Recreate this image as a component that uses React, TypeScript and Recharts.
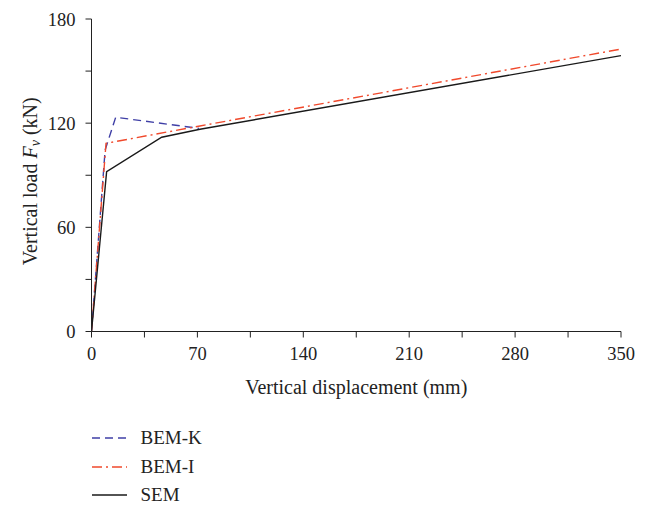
import React from "react";
import { LineChart, Line, XAxis, YAxis, Label } from "recharts";

const bemKDisp = [0, 9, 16, 71];
const bemKLoad = [0, 104.5, 123.4, 117];

const bemIDisp = [0, 9.6, 71.7, 350];
const bemILoad = [0, 108.4, 118.4, 162.7];

const semDisp = [0, 10, 46.4, 71.7, 350];
const semLoad = [0, 92, 111.9, 116.5, 158.9];

const xTicks = [0, 35, 70, 105, 140, 175, 210, 245, 280, 315, 350];
const yTicks = [0, 30, 60, 90, 120, 150, 180];

const toRows = (xs: number[], ys: number[]) => xs.map((x, i) => ({ x, y: ys[i] }));

const FONT = "'Liberation Serif', 'DejaVu Serif', serif";

const series = [
  { name: "BEM-K", rows: toRows(bemKDisp, bemKLoad), color: "#3f3fa6", dash: "8 5" },
  { name: "BEM-I", rows: toRows(bemIDisp, bemILoad), color: "#f0492c", dash: "10 4 2 4" },
  { name: "SEM", rows: toRows(semDisp, semLoad), color: "#1a1a1a", dash: undefined },
];

const YLabel = (props: any) => {
  const vb = props.viewBox || {};
  const cx = 22;
  const cy = vb.y + vb.height / 2 + 6;
  return (
    <text
      x={cx}
      y={cy}
      transform={`rotate(-90, ${cx}, ${cy})`}
      textAnchor="middle"
      dominantBaseline="central"
      fontFamily={FONT}
      fontSize={20}
      fill="#222"
    >
      Vertical load <tspan fontStyle="italic">F</tspan>
      <tspan fontStyle="italic" fontSize={14} dy={5}>ν</tspan>
      <tspan dy={-5}> (kN)</tspan>
    </text>
  );
};

const XLabel = (props: any) => {
  const vb = props.viewBox || {};
  return (
    <text
      x={vb.x + vb.width / 2}
      y={378.7}
      textAnchor="middle"
      dominantBaseline="central"
      fontFamily={FONT}
      fontSize={20}
      fill="#222"
    >
      Vertical displacement (mm)
    </text>
  );
};

export default function App() {
  const tickStyle = { fontFamily: FONT, fontSize: 18.5, fill: "#222" };
  return (
    <div style={{ width: 645, fontFamily: FONT }}>
      <LineChart width={645} height={400} margin={{ top: 11, right: 32, left: 0, bottom: 0 }}>
        <XAxis
          type="number"
          dataKey="x"
          domain={[0, 350]}
          ticks={xTicks}
          tickFormatter={(v: number) => (v % 70 === 0 ? String(v) : "")}
          tick={tickStyle}
          tickSize={6}
          tickMargin={9}
          stroke="#222"
          height={76.5}
          allowDataOverflow
        >
          <Label content={<XLabel />} />
        </XAxis>
        <YAxis
          type="number"
          dataKey="y"
          domain={[0, 180]}
          ticks={yTicks}
          tickFormatter={(v: number) => (v % 60 === 0 ? String(v) : "")}
          tick={tickStyle}
          tickSize={6}
          tickMargin={10}
          stroke="#222"
          width={83.5}
        >
          <Label content={<YLabel />} />
        </YAxis>
        {series.map((s) => (
          <Line
            key={s.name}
            data={s.rows}
            dataKey="y"
            name={s.name}
            type="linear"
            stroke={s.color}
            strokeWidth={1.4}
            strokeDasharray={s.dash}
            dot={false}
            isAnimationActive={false}
          />
        ))}
      </LineChart>
      <div style={{ marginTop: 16, marginLeft: 83.5 }}>
        {series.map((s) => (
          <div key={s.name} style={{ display: "flex", alignItems: "center", height: 28.4 }}>
            <svg width={36} height={10}>
              <line x1={0} y1={5} x2={35} y2={5} stroke={s.color} strokeWidth={1.4} strokeDasharray={s.dash} />
            </svg>
            <span style={{ fontSize: 19, color: "#222", marginLeft: 13 }}>{s.name}</span>
          </div>
        ))}
      </div>
    </div>
  );
}
